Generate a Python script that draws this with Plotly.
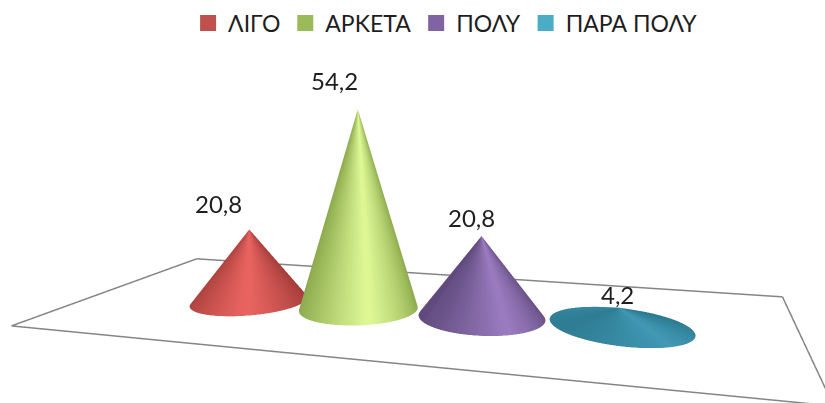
import numpy as np
import plotly.graph_objects as go

categories = ["ΛΙΓΟ", "ΑΡΚΕΤΑ", "ΠΟΛΎ", "ΠΑΡΑ ΠΟΛΎ"]
values = [20.8, 54.2, 20.8, 4.2]
value_labels = ["20,8", "54,2", "20,8", "4,2"]

# Shading of each cone: edge colour, highlight colour, legend colour
edge_colors = ["#a43d3a", "#82a044", "#5c4778", "#2d7b91"]
peak_colors = ["#ec6663", "#e0fb98", "#9c7dc2", "#429ab6"]
legend_colors = ["#c0504d", "#9bbb59", "#8064a2", "#4bacc6"]

WIDTH, HEIGHT = 825, 403
Z_MAX = 60.0
CONE_RADIUS = 0.485
SEGMENTS = 60

# Floor outline in category / depth units
floor_x = [-0.781, -1.377, 5.083, 4.255, -0.781]
floor_y = [-1.048, 1.742, 1.213, -1.105, -1.048]

# Scene geometry
UNIT = 0.4557
Z_ASPECT = 0.8174
SCENE_HEIGHT = 398.5
EYE = dict(x=0.4478, y=-1.8376, z=0.0828)
CENTER = dict(x=0.0621, y=-0.214, z=-0.0137)

# Pixel offsets of the value labels from the cone tips
label_dx = [-31, -23, -10, -2]
label_dy = [25, 28, 18, 12]


def rgb(hex_color):
    return np.array([int(hex_color[k:k + 2], 16) for k in (1, 3, 5)], float)


def cone(position, value, edge, peak):
    """Cone standing on the floor, shaded across its width as seen from the eye."""
    view_angle = np.arctan2(EYE["y"] + 0.4, EYE["x"] + 0.4)
    xs, ys, zs, colors, i, j, k = [], [], [], [], [], [], []
    low, high = rgb(edge), rgb(peak)
    for n, angle in enumerate(np.linspace(0, 2 * np.pi, SEGMENTS + 1)):
        facing = np.cos(angle - view_angle)
        across = -np.sin(angle - view_angle)
        light = max(0, 1 - abs(across - 0.05) / 1.05) ** 0.8
        if facing < 0:
            light *= 0.45
        shade = "rgb(%d,%d,%d)" % tuple(low + (high - low) * light)
        xs += [position + CONE_RADIUS * np.cos(angle), position]
        ys += [CONE_RADIUS * np.sin(angle), 0]
        zs += [0, value]
        colors += [shade, shade]
        if n < SEGMENTS:
            i += [2 * n, 2 * n + 1]
            j += [2 * n + 2, 2 * n + 2]
            k += [2 * n + 1, 2 * n + 3]
    return go.Mesh3d(
        x=xs, y=ys, z=zs, i=i, j=j, k=k, vertexcolor=colors, flatshading=False,
        lighting=dict(ambient=1, diffuse=0, specular=0, fresnel=0, roughness=1),
        hoverinfo="skip", showlegend=False,
    )


positions = [n + 0.5 for n in range(len(categories))]

fig = go.Figure()
fig.add_trace(go.Scatter3d(
    x=floor_x, y=floor_y, z=[0] * len(floor_x), mode="lines",
    line=dict(color="#858585", width=3), showlegend=False, hoverinfo="skip",
))
for n, value in enumerate(values):
    fig.add_trace(cone(positions[n], value, edge_colors[n], peak_colors[n]))
for name, color in zip(categories, legend_colors):
    fig.add_trace(go.Scatter3d(
        x=[None], y=[None], z=[None], mode="markers", name=name,
        marker=dict(symbol="square", size=16, color=color),
    ))

x_range = [min(floor_x), max(floor_x)]
y_range = [min(floor_y), max(floor_y)]
hidden = dict(visible=False, showgrid=False, zeroline=False, showbackground=False)

fig.update_layout(
    width=WIDTH, height=HEIGHT, margin=dict(l=0, r=0, t=0, b=0),
    paper_bgcolor="white",
    font=dict(family="Lato, Noto Sans", size=23, color="#1e1e1e"),
    legend=dict(orientation="h", x=0.228, xanchor="left", y=0.996, yanchor="top"),
    scene=dict(
        domain=dict(x=[0, 1], y=[0, SCENE_HEIGHT / HEIGHT]),
        aspectmode="manual",
        aspectratio=dict(
            x=UNIT * (x_range[1] - x_range[0]),
            y=UNIT * (y_range[1] - y_range[0]),
            z=Z_ASPECT,
        ),
        camera=dict(eye=EYE, center=CENTER, up=dict(x=0, y=0, z=1)),
        xaxis=dict(range=x_range, **hidden),
        yaxis=dict(range=y_range, **hidden),
        zaxis=dict(range=[0, Z_MAX], **hidden),
        annotations=[
            dict(x=positions[n], y=0, z=values[n], text=value_labels[n], showarrow=False,
                 xshift=label_dx[n], yshift=label_dy[n], font=dict(size=24))
            for n in range(len(values))
        ],
    ),
)
fig.write_html("out.html")
